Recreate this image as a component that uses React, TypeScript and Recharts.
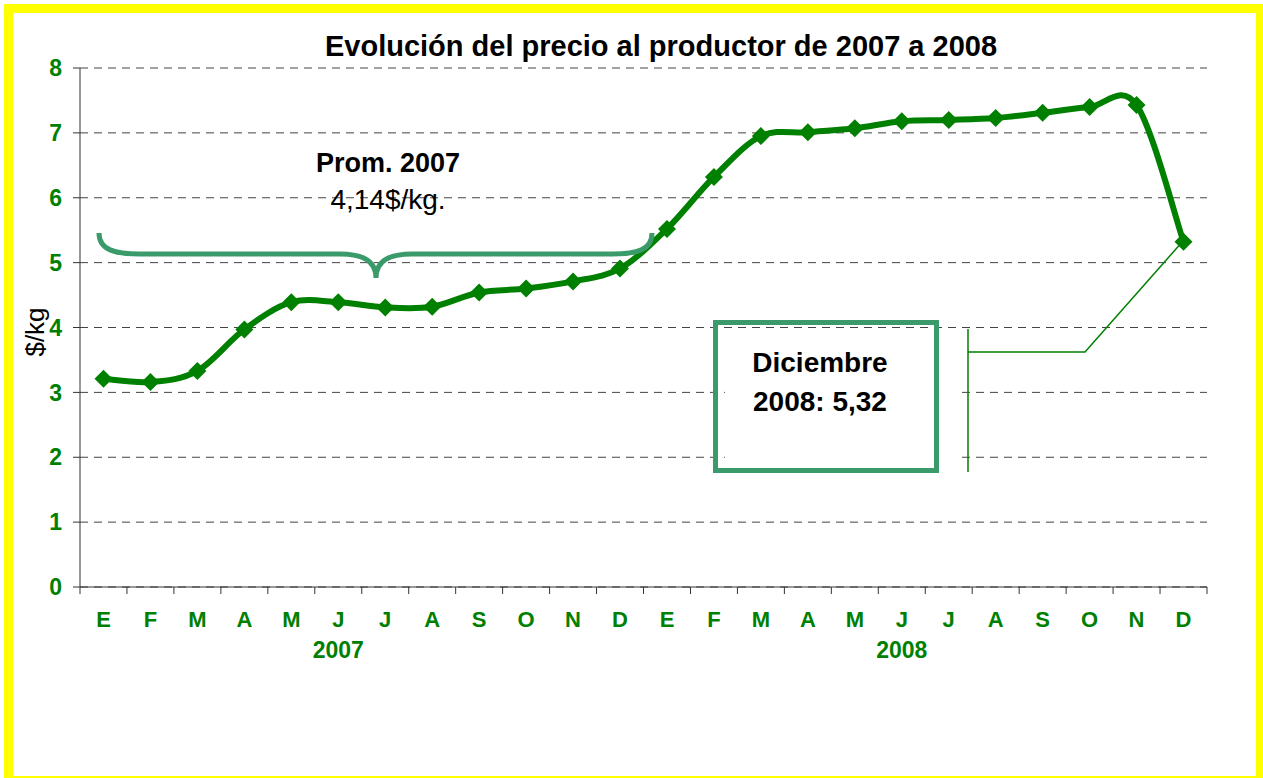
import React from "react"
import { LineChart, Line, XAxis, YAxis, CartesianGrid } from "recharts"

const months = ["E", "F", "M", "A", "M", "J", "J", "A", "S", "O", "N", "D", "E", "F", "M", "A", "M", "J", "J", "A", "S", "O", "N", "D"]
const years = ["2007", "2008"]
const precio2007 = [3.21, 3.16, 3.33, 3.97, 4.39, 4.39, 4.31, 4.32, 4.54, 4.6, 4.71, 4.91]
const precio2008 = [5.52, 6.32, 6.95, 7.01, 7.07, 7.18, 7.2, 7.23, 7.31, 7.4, 7.43, 5.32]
const yTicks = [0, 1, 2, 3, 4, 5, 6, 7, 8]

const data = [...precio2007, ...precio2008].map((v, i) => ({ x: i + 0.5, mes: months[i], precio: v }))
const xTicks = months.map((_, i) => i).concat(months.length)

const W = 1263
const H = 778
const PLOT_LEFT = 80
const PLOT_RIGHT = 1207
const PLOT_TOP = 68
const PLOT_BOTTOM = 587
const YAXIS_W = 60
const XAXIS_H = 80
const BAND = (PLOT_RIGHT - PLOT_LEFT) / months.length

const FONT = '"Liberation Sans", Arial, Helvetica, sans-serif'
const GREEN = "#008000"
const SEA = "#3a9a6a"

// Excel-like smoothing (uniform Catmull-Rom as bezier segments)
const excelSmooth = (context: any) => {
  let pts: number[][] = []
  return {
    areaStart() {},
    areaEnd() {},
    lineStart() {
      pts = []
    },
    point(x: number, y: number) {
      pts.push([+x, +y])
    },
    lineEnd() {
      const n = pts.length
      if (!n) return
      context.moveTo(pts[0][0], pts[0][1])
      for (let i = 0; i < n - 1; i++) {
        const p0 = pts[Math.max(i - 1, 0)]
        const p1 = pts[i]
        const p2 = pts[i + 1]
        const p3 = pts[Math.min(i + 2, n - 1)]
        context.bezierCurveTo(
          p1[0] + (p2[0] - p0[0]) / 6,
          p1[1] + (p2[1] - p0[1]) / 6,
          p2[0] - (p3[0] - p1[0]) / 6,
          p2[1] - (p3[1] - p1[1]) / 6,
          p2[0],
          p2[1]
        )
      }
    },
  }
}

const Diamond = (props: any) => {
  const { cx, cy, index } = props
  const r = 9
  return <path key={`d-${index}`} d={`M${cx},${cy - r}L${cx + r},${cy}L${cx},${cy + r}L${cx - r},${cy}Z`} fill={GREEN} />
}

const MonthTick = (props: any) => {
  const { x, y, payload } = props
  const i = payload.value
  if (i >= months.length) return <g />
  const cx = x + BAND / 2
  const year = i % 12 === 5 ? years[Math.floor(i / 12)] : null
  return (
    <g>
      <text x={cx} y={y + 31} textAnchor="middle" fill={GREEN} fontFamily={FONT} fontWeight="bold" fontSize={22}>
        {months[i]}
      </text>
      {year && (
        <text x={cx} y={y + 62} textAnchor="middle" fill={GREEN} fontFamily={FONT} fontWeight="bold" fontSize={23}>
          {year}
        </text>
      )}
    </g>
  )
}

export default function App() {
  return (
    <div style={{ position: "fixed", left: 0, top: 0, width: W, height: H, overflow: "hidden", background: "#fff" }}>
      <div
        style={{
          position: "absolute",
          left: 4,
          top: 4,
          width: 1261,
          height: 781,
          boxSizing: "border-box",
          border: "9px solid #ffff00",
        }}
      />
      <div style={{ position: "absolute", left: 0, top: 0 }}>
        <LineChart
          width={W}
          height={H}
          data={data}
          margin={{
            top: PLOT_TOP,
            left: PLOT_LEFT - YAXIS_W,
            right: W - PLOT_RIGHT,
            bottom: H - PLOT_BOTTOM - XAXIS_H,
          }}
        >
          <CartesianGrid vertical={false} stroke="#444" strokeDasharray="8 6" />
          <XAxis
            dataKey="x"
            type="number"
            domain={[0, months.length]}
            ticks={xTicks}
            interval={0}
            height={XAXIS_H}
            tickSize={7}
            tickMargin={2}
            stroke="#333"
            tick={<MonthTick />}
          />
          <YAxis
            domain={[0, 8]}
            ticks={yTicks}
            interval={0}
            width={YAXIS_W}
            tickSize={7}
            tickMargin={11}
            stroke="#333"
            tick={{ fill: GREEN, fontFamily: FONT, fontWeight: "bold", fontSize: 23 }}
          />
          <Line
            dataKey="precio"
            type={excelSmooth as any}
            stroke={GREEN}
            strokeWidth={6}
            dot={<Diamond />}
            activeDot={false}
            isAnimationActive={false}
          />
        </LineChart>
      </div>
      <svg width={W} height={H} style={{ position: "absolute", left: 0, top: 0, pointerEvents: "none" }} fontFamily={FONT}>
        <text x={661} y={56} textAnchor="middle" fontWeight="bold" fontSize={29} fill="#000">
          Evolución del precio al productor de 2007 a 2008
        </text>
        <text x={0} y={0} transform="translate(44,332) rotate(-90)" textAnchor="middle" fontSize={26} fill="#000">
          $/kg
        </text>
        <text x={388} y={172} textAnchor="middle" fontWeight="bold" fontSize={27} fill="#000">
          Prom. 2007
        </text>
        <text x={388} y={209} textAnchor="middle" fontSize={28} fill="#000">
          4,14$/kg.
        </text>
        <path
          d="M99,233 C99,250 115,254 140,254 L340,254 C362,254 376,260 376,278 C376,260 390,254 412,254 L612,254 C637,254 652,250 652,233"
          fill="none"
          stroke={SEA}
          strokeWidth={5}
        />
        <rect x={725} y={340} width={232} height={128} fill="#fff" />
        <rect x={715.5} y={322.5} width={221} height={148} fill="none" stroke={SEA} strokeWidth={5} />
        <text x={820} y={372} textAnchor="middle" fontWeight="bold" fontSize={28} fill="#000">
          Diciembre
        </text>
        <text x={820} y={411} textAnchor="middle" fontWeight="bold" fontSize={28} fill="#000">
          2008: 5,32
        </text>
        <path d="M968,329 L968,472 M968,352 L1085,352 L1183,241" fill="none" stroke={GREEN} strokeWidth={1.5} />
      </svg>
    </div>
  )
}
